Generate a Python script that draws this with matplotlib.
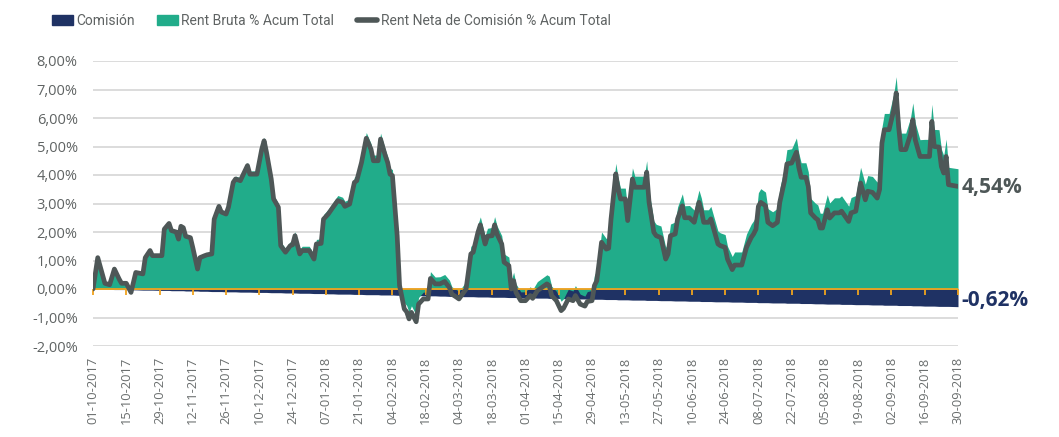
import numpy as np
import pandas as pd
import matplotlib
matplotlib.use("Agg")
import matplotlib.pyplot as plt
import matplotlib.dates as mdates
from matplotlib.patches import Patch
from matplotlib.lines import Line2D
from matplotlib.ticker import FuncFormatter, MultipleLocator

plt.rcParams['font.family'] = ['Open Sans', 'DejaVu Sans']

inicio = pd.Timestamp('2017-10-01')

# dias desde el 01-10-2017
dias = [0, 2, 3, 5, 7, 9, 11, 12, 14, 16, 18, 21, 22, 24, 25, 29, 30, 32, 33, 35,
        36, 37, 38, 39, 41, 42, 44, 45, 47, 48, 50, 51, 53, 54, 56, 57, 59, 60, 62, 63,
        65, 66, 69, 71, 72, 73, 75, 76, 78, 79, 81, 83, 84, 85, 87, 88, 91, 93, 94, 96,
        97, 99, 101, 103, 105, 106, 108, 110, 111, 113, 115, 117, 118, 120, 121, 123, 124, 125, 126, 128,
        129, 131, 132, 133, 134, 136, 137, 139, 141, 142, 144, 146, 148, 150, 151, 153, 154, 156, 157, 159,
        160, 162, 163, 165, 166, 168, 169, 170, 172, 173, 175, 176, 177, 178, 180, 182, 184, 185, 187, 189,
        191, 192, 193, 195, 197, 198, 200, 202, 203, 205, 207, 208, 210, 211, 212, 213, 214, 216, 217, 218,
        220, 221, 222, 224, 225, 227, 228, 230, 232, 233, 234, 236, 237, 239, 241, 242, 243, 245, 246, 248,
        249, 251, 253, 255, 256, 257, 259, 260, 262, 263, 264, 266, 267, 269, 270, 272, 273, 275, 277, 278,
        279, 280, 281, 283, 284, 286, 288, 289, 291, 292, 294, 296, 297, 298, 300, 301, 302, 304, 305, 306,
        307, 309, 310, 312, 314, 315, 317, 318, 319, 321, 323, 325, 326, 328, 330, 331, 332, 333, 335, 337,
        338, 339, 340, 342, 344, 345, 346, 348, 350, 352, 353, 354, 356, 357, 358, 359, 360, 364]

# rentabilidad neta de comision, % acumulado
rent_neta = [0.00, 1.10, 0.80, 0.20, 0.15, 0.70, 0.35, 0.20, 0.20, -0.12, 0.58, 0.53, 1.10, 1.35, 1.17, 1.17, 2.10, 2.30, 2.05, 2.00,
             1.75, 2.20, 2.15, 1.85, 1.80, 1.45, 0.70, 1.10, 1.17, 1.20, 1.23, 2.45, 2.90, 2.70, 2.63, 2.87, 3.74, 3.86, 3.80, 3.98,
             4.33, 4.03, 4.03, 4.90, 5.20, 4.80, 3.86, 3.16, 2.87, 1.52, 1.29, 1.52, 1.55, 1.87, 1.23, 1.35, 1.35, 1.05, 1.58, 1.60,
             2.45, 2.63, 2.87, 3.10, 3.04, 2.90, 2.98, 3.74, 3.80, 4.44, 5.29, 4.90, 4.50, 4.50, 5.26, 4.68, 4.44, 4.03, 3.98, 1.87,
             0.12, -0.70, -0.80, -1.05, -0.82, -1.15, -0.53, -0.35, -0.35, 0.37, 0.18, 0.18, 0.26, 0.05, -0.18, -0.29, -0.35, -0.12, 0.00, 1.23,
             1.29, 1.99, 2.25, 1.58, 1.85, 1.87, 2.25, 1.93, 1.58, 0.94, 0.82, 0.00, 0.29, -0.12, -0.41, -0.41, -0.23, -0.33, -0.06, 0.06,
             0.18, 0.12, -0.23, -0.41, -0.76, -0.68, -0.35, -0.41, -0.23, -0.53, -0.60, -0.44, -0.41, 0.12, 0.29, 0.94, 1.64, 1.40, 1.43, 2.46,
             4.04, 3.50, 3.16, 3.16, 2.40, 3.86, 3.57, 3.57, 3.57, 4.10, 3.04, 1.99, 1.87, 1.80, 1.05, 1.23, 1.87, 1.93, 2.46, 2.92,
             2.50, 2.50, 2.34, 3.04, 2.75, 2.34, 2.34, 2.46, 1.87, 1.58, 1.52, 1.46, 1.05, 0.68, 0.84, 0.84, 0.84, 1.46, 1.81, 1.93,
             2.10, 2.90, 3.04, 2.92, 2.34, 2.22, 2.34, 3.04, 3.80, 4.39, 4.42, 4.80, 4.27, 3.92, 3.92, 3.60, 2.67, 2.49, 2.43, 2.14,
             2.14, 2.78, 2.49, 2.67, 2.67, 2.73, 2.49, 2.37, 2.67, 2.73, 3.72, 3.13, 3.43, 3.39, 3.19, 3.49, 5.12, 5.59, 5.59, 6.29,
             6.88, 5.71, 4.89, 4.89, 5.42, 5.94, 5.24, 4.65, 4.65, 4.65, 5.88, 5.00, 4.98, 4.30, 4.07, 4.65, 3.66, 3.60]

# comision acumulada, %
comision = [0.00, 0.00, -0.01, -0.01, -0.01, -0.02, -0.02, -0.02, -0.02, -0.03, -0.03, -0.04, -0.04, -0.04, -0.04, -0.05, -0.05, -0.05, -0.06, -0.06,
            -0.06, -0.06, -0.06, -0.07, -0.07, -0.07, -0.07, -0.08, -0.08, -0.08, -0.09, -0.09, -0.09, -0.09, -0.10, -0.10, -0.10, -0.10, -0.11, -0.11,
            -0.11, -0.11, -0.12, -0.12, -0.12, -0.12, -0.13, -0.13, -0.13, -0.13, -0.14, -0.14, -0.14, -0.14, -0.15, -0.15, -0.15, -0.16, -0.16, -0.16,
            -0.16, -0.17, -0.17, -0.18, -0.18, -0.18, -0.18, -0.19, -0.19, -0.19, -0.20, -0.20, -0.20, -0.20, -0.21, -0.21, -0.21, -0.21, -0.21, -0.22,
            -0.22, -0.22, -0.22, -0.23, -0.23, -0.23, -0.23, -0.24, -0.24, -0.24, -0.24, -0.25, -0.25, -0.26, -0.26, -0.26, -0.26, -0.27, -0.27, -0.27,
            -0.27, -0.28, -0.28, -0.28, -0.28, -0.29, -0.29, -0.29, -0.29, -0.29, -0.30, -0.30, -0.30, -0.30, -0.31, -0.31, -0.31, -0.31, -0.32, -0.32,
            -0.32, -0.33, -0.33, -0.33, -0.33, -0.34, -0.34, -0.34, -0.35, -0.35, -0.35, -0.35, -0.36, -0.36, -0.36, -0.36, -0.36, -0.37, -0.37, -0.37,
            -0.37, -0.38, -0.38, -0.38, -0.38, -0.39, -0.39, -0.39, -0.39, -0.40, -0.40, -0.40, -0.40, -0.41, -0.41, -0.41, -0.41, -0.42, -0.42, -0.42,
            -0.42, -0.43, -0.43, -0.43, -0.44, -0.44, -0.44, -0.44, -0.45, -0.45, -0.45, -0.45, -0.45, -0.46, -0.46, -0.46, -0.46, -0.47, -0.47, -0.47,
            -0.47, -0.48, -0.48, -0.48, -0.48, -0.49, -0.49, -0.49, -0.49, -0.50, -0.50, -0.50, -0.50, -0.51, -0.51, -0.51, -0.51, -0.52, -0.52, -0.52,
            -0.52, -0.53, -0.53, -0.53, -0.53, -0.54, -0.54, -0.54, -0.54, -0.55, -0.55, -0.55, -0.55, -0.56, -0.56, -0.56, -0.56, -0.57, -0.57, -0.57,
            -0.57, -0.58, -0.58, -0.58, -0.58, -0.59, -0.59, -0.59, -0.60, -0.60, -0.60, -0.60, -0.61, -0.61, -0.61, -0.61, -0.61, -0.62]

rent_bruta = [n - c for n, c in zip(rent_neta, comision)]

fechas = inicio + pd.to_timedelta(dias, unit='D')
fechas_eje = pd.date_range('2017-10-01', '2018-09-30', freq='14D')

AZUL = '#1f3264'
VERDE = '#21ac8a'
GRIS = '#4e5757'
NARANJA = '#f0a31e'
TEXTO = '#5f6363'

fig = plt.figure(figsize=(10.59, 4.37), dpi=100)
ax = fig.add_axes([93 / 1059, 1 - 346 / 437, 865 / 1059, 285 / 437])

ax.fill_between(fechas, 0, comision, color=AZUL, lw=0, zorder=2)
ax.fill_between(fechas, 0, rent_bruta, color=VERDE, lw=0, zorder=3)
ax.axhline(0, color=NARANJA, lw=1.3, zorder=4)
ax.plot(fechas_eje, np.zeros(len(fechas_eje)), ls='none', marker=3, ms=4,
        mew=1.3, color=NARANJA, zorder=4, clip_on=False)
ax.plot(fechas, rent_neta, color=GRIS, lw=3.4, solid_joinstyle='round',
        solid_capstyle='round', zorder=5)

ax.set_xlim(fechas_eje[0], fechas_eje[-1])
ax.set_ylim(-2, 8)
ax.yaxis.set_major_locator(MultipleLocator(1))
ax.yaxis.set_major_formatter(FuncFormatter(lambda v, p: f'{v:.2f}%'.replace('.', ',')))
ax.grid(axis='y', color='#d9d9d9', lw=1.3, zorder=0)
ax.set_axisbelow(True)
for s in ax.spines.values():
    s.set_visible(False)

ax.set_xticks(fechas_eje)
ax.xaxis.set_major_formatter(mdates.DateFormatter('%d-%m-%Y'))
ax.tick_params(axis='x', length=0, pad=8, labelsize=9.3, labelcolor='#6a6e6e', rotation=90)
ax.tick_params(axis='y', length=0, pad=11, labelsize=10.5, labelcolor=TEXTO)

ax.text(1.004, (3.55 + 2) / 10, '4,54%', transform=ax.transAxes, ha='left', va='center',
        fontsize=15, fontweight='bold', color=GRIS)
ax.text(1.004, (-0.4 + 2) / 10, '-0,62%', transform=ax.transAxes, ha='left', va='center',
        fontsize=15, fontweight='bold', color=AZUL)

# leyenda superior
handles = [Patch(color=AZUL), Patch(color=VERDE),
           Line2D([], [], color=GRIS, lw=4, solid_capstyle='round')]
etiquetas = ['Comisión', 'Rent Bruta % Acum Total', 'Rent Neta de Comisión % Acum Total']
fig.legend(handles, etiquetas, loc='center left', bbox_to_anchor=(52 / 1059, 1 - 21 / 437),
           ncol=3, frameon=False, prop={'family': ['Roboto', 'DejaVu Sans'], 'size': 10},
           labelcolor=TEXTO, handlelength=1.5, handleheight=0.65, handletextpad=0.25,
           columnspacing=1.6, borderpad=0, borderaxespad=0)

fig.savefig('out.png', dpi=100)
